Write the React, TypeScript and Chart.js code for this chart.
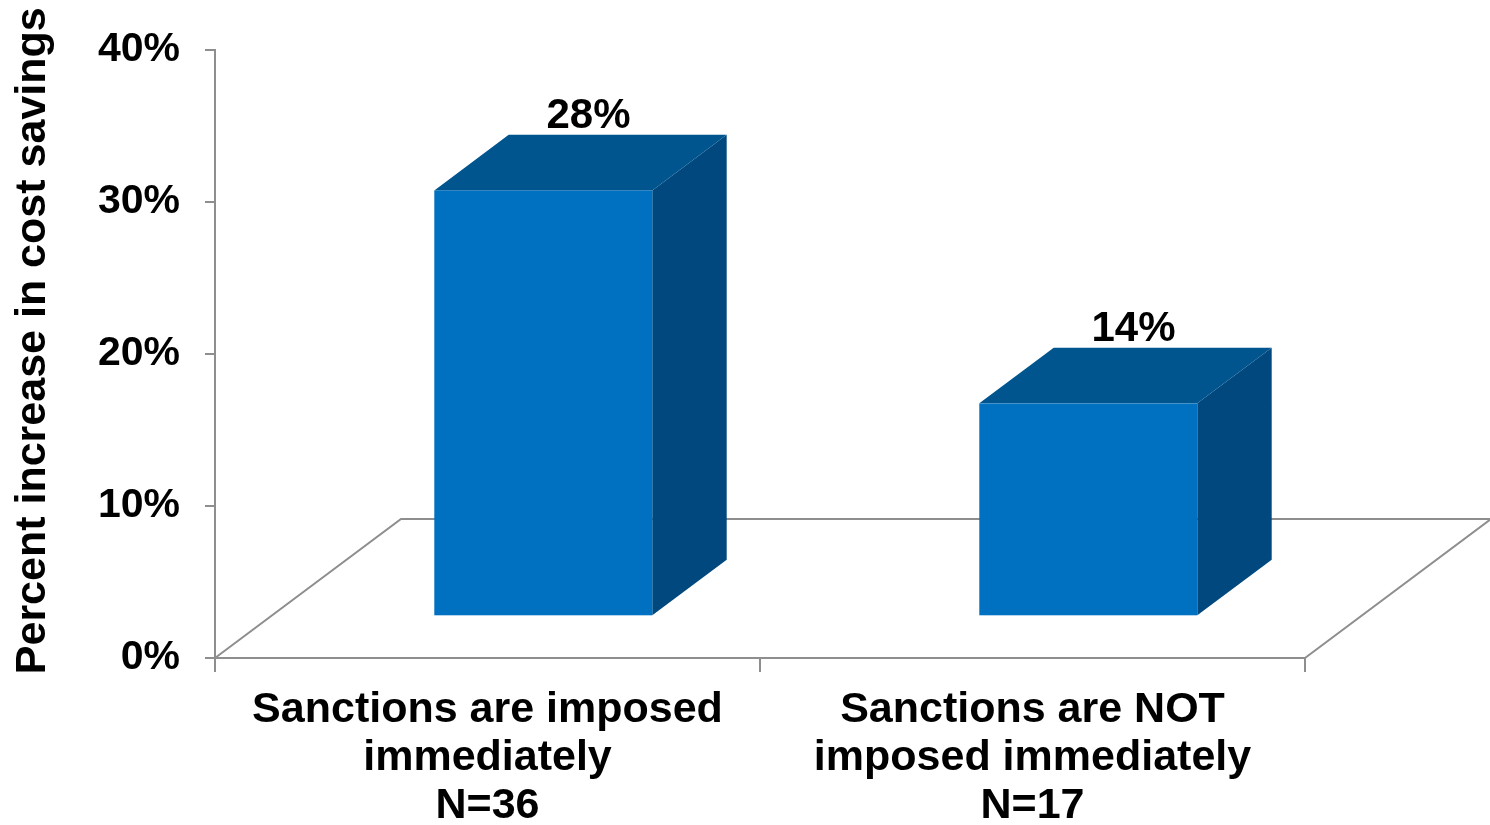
import React, { useEffect, useRef } from "react";
import { Chart, registerables } from "chart.js";

Chart.register(...registerables);

const categories: string[][] = [
  ["Sanctions are imposed", "immediately", "N=36"],
  ["Sanctions are NOT", "imposed immediately", "N=17"],
];
const values: number[] = [28, 14];
const valueLabels: string[] = ["28%", "14%"];
const yMin = 0;
const yMax = 40;
const yStep = 10;
const yTitle = "Percent increase in cost savings";

const FONT = '"Liberation Sans", Arial, Helvetica, sans-serif';
const AXIS_GRAY = "#8e8e8e";
const FRONT = "#0070c0";
const TOP = "#00558f";
const SIDE = "#00487d";
const DEPTH_X = 186;
const DEPTH_Y = -139;
const BAR_FRONT = 0.3;
const BAR_DEPTH = 0.4;

const bar3d = {
  id: "bar3d",
  beforeDatasetsDraw(chart: any) {
    const { ctx } = chart;
    const xs = chart.scales.x;
    const ys = chart.scales.y;
    const y0 = ys.getPixelForValue(0);
    ctx.save();
    ctx.strokeStyle = AXIS_GRAY;
    ctx.lineWidth = 2;
    ctx.beginPath();
    ctx.moveTo(xs.left, y0);
    ctx.lineTo(xs.left + DEPTH_X, y0 + DEPTH_Y);
    ctx.lineTo(xs.right + DEPTH_X, y0 + DEPTH_Y);
    ctx.lineTo(xs.right, y0);
    ctx.stroke();
    ctx.restore();
  },
  afterDatasetsDraw(chart: any) {
    const { ctx } = chart;
    const meta = chart.getDatasetMeta(0);
    const ys = chart.scales.y;
    const fx = BAR_FRONT * DEPTH_X;
    const fy = BAR_FRONT * DEPTH_Y;
    const bx = BAR_DEPTH * DEPTH_X;
    const by = BAR_DEPTH * DEPTH_Y;
    ctx.save();
    meta.data.forEach((el: any, i: number) => {
      const p = el.getProps(["x", "y", "base", "width"], true);
      const cx = p.x + fx;
      const L = cx - p.width / 2;
      const R = cx + p.width / 2;
      const T = p.y + fy;
      const B = p.base + fy;
      ctx.fillStyle = SIDE;
      ctx.beginPath();
      ctx.moveTo(R, T);
      ctx.lineTo(R + bx, T + by);
      ctx.lineTo(R + bx, B + by);
      ctx.lineTo(R, B);
      ctx.closePath();
      ctx.fill();
      ctx.fillStyle = TOP;
      ctx.beginPath();
      ctx.moveTo(L, T);
      ctx.lineTo(L + bx, T + by);
      ctx.lineTo(R + bx, T + by);
      ctx.lineTo(R, T);
      ctx.closePath();
      ctx.fill();
      ctx.fillStyle = FRONT;
      ctx.fillRect(L, T, R - L, B - T);
      ctx.fillStyle = "#000";
      ctx.font = `bold 42px ${FONT}`;
      ctx.textAlign = "center";
      ctx.textBaseline = "alphabetic";
      ctx.fillText(valueLabels[i], (L + R + bx) / 2 + 8, T + by - 7);
    });
    // y-axis title
    ctx.translate(33, (ys.top + ys.bottom) / 2 - 13);
    ctx.rotate(-Math.PI / 2);
    ctx.fillStyle = "#000";
    ctx.font = `bold 43px ${FONT}`;
    ctx.textAlign = "center";
    ctx.textBaseline = "middle";
    ctx.fillText(yTitle, 0, 0);
    ctx.restore();
  },
};

export default function App() {
  const ref = useRef<HTMLCanvasElement | null>(null);
  useEffect(() => {
    document.body.style.margin = "0";
    const canvas = ref.current;
    if (!canvas) return;
    const chart = new Chart(canvas, {
      type: "bar",
      data: {
        labels: categories,
        datasets: [
          {
            data: values,
            backgroundColor: "rgba(0,0,0,0)",
            borderWidth: 0,
            categoryPercentage: 1,
            barPercentage: BAR_DEPTH,
          },
        ],
      },
      options: {
        responsive: false,
        animation: false,
        events: [],
        layout: { padding: { top: 43, right: 185, left: 0, bottom: 0 } },
        plugins: {
          legend: { display: false },
          tooltip: { enabled: false },
        },
        scales: {
          x: {
            offset: true,
            grid: {
              offset: true,
              drawOnChartArea: false,
              drawTicks: true,
              tickLength: 14,
              color: AXIS_GRAY,
              lineWidth: 2,
            },
            border: { display: true, color: AXIS_GRAY, width: 2 },
            ticks: {
              color: "#000",
              maxRotation: 0,
              autoSkip: false,
              padding: 14,
              font: { family: FONT, size: 43, weight: "bold", lineHeight: 1.12 },
            },
            afterFit(scale: any) {
              scale.height = 167;
            },
          },
          y: {
            min: yMin,
            max: yMax,
            grid: {
              drawOnChartArea: false,
              drawTicks: true,
              tickLength: 10,
              color: AXIS_GRAY,
              lineWidth: 2,
            },
            border: { display: true, color: AXIS_GRAY, width: 2 },
            ticks: {
              stepSize: yStep,
              color: "#000",
              padding: 25,
              font: { family: FONT, size: 41, weight: "bold" },
              callback: (v: any) => `${v}%`,
            },
            afterFit(scale: any) {
              scale.width = 215;
            },
          },
        },
      },
      plugins: [bar3d],
    } as any);
    return () => chart.destroy();
  }, []);
  return (
    <div style={{ width: 1490, height: 825, background: "#fff" }}>
      <canvas ref={ref} width={1490} height={825} style={{ display: "block" }} />
    </div>
  );
}
